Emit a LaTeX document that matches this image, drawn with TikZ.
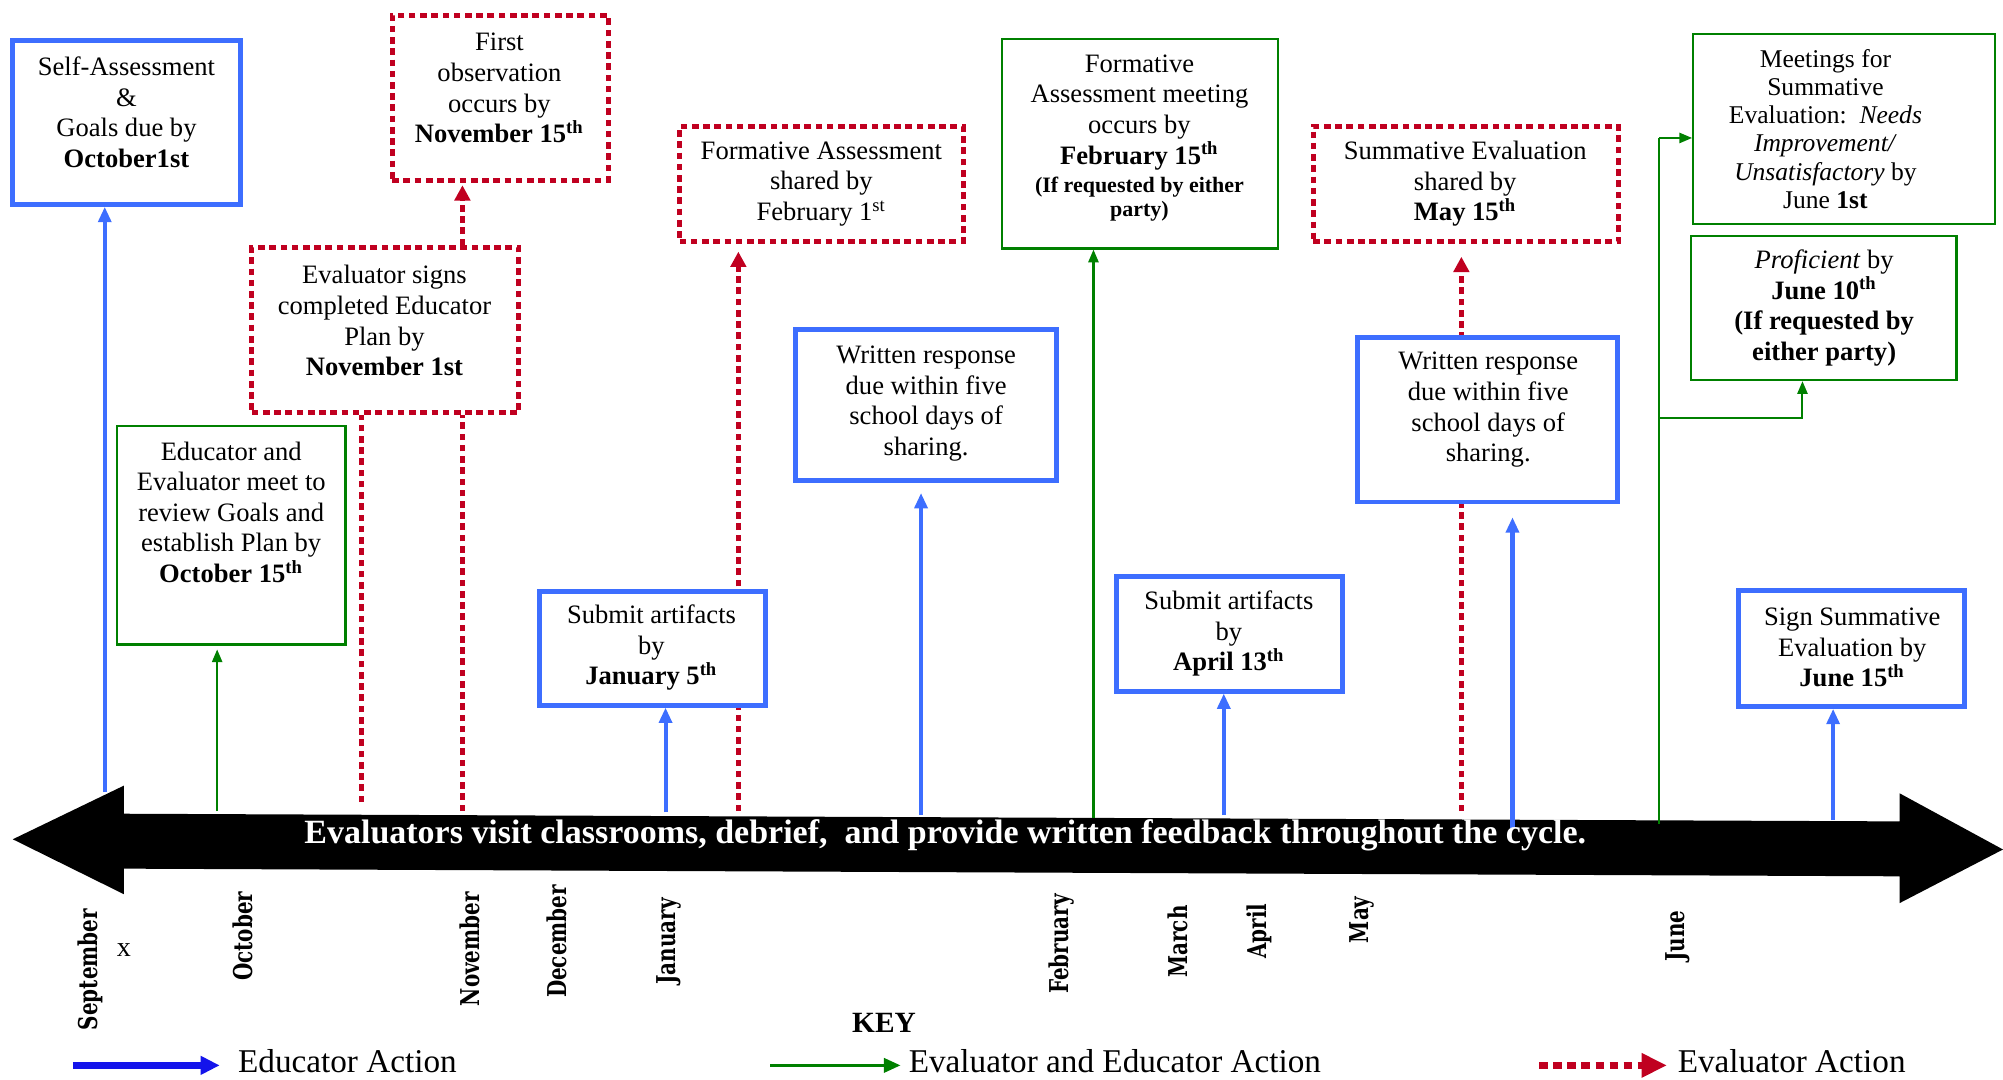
\documentclass[tikz,border=0pt]{standalone}
\usepackage{fontspec}
\setmainfont{Liberation Serif}
\newfontfamily\monthfont{DejaVu Serif}
\usetikzlibrary{arrows.meta,fit,backgrounds}
\definecolor{bxblue}{RGB}{61,110,255}
\definecolor{kblue}{RGB}{20,20,235}
\definecolor{gr}{RGB}{0,128,0}
\definecolor{rd}{RGB}{192,0,32}
\newcommand{\mlab}[1]{\scalebox{1}[1.3]{#1}}
\begin{document}
\begin{tikzpicture}[x=0.5pt,y=-0.5pt,
 bbox/.style={draw=bxblue, line width=1.9pt, fill=white, inner sep=0pt},
 rbox/.style={draw=rd, line width=2pt, dash pattern=on 2.6pt off 1.8pt, fill=white, inner sep=0pt},
 gbox/.style={draw=gr, line width=0.9pt, fill=white, inner sep=0pt},
 txt/.style={align=center, font=\fontsize{10.4}{12}\selectfont, inner sep=0pt},
 barrow/.style={draw=bxblue, line width=1.6pt, -{Triangle[length=6pt,width=5pt]}},
 rarrow/.style={draw=rd, line width=2pt, dash pattern=on 2.6pt off 1.8pt, -{Triangle[length=6pt,width=6pt]}},
 rline/.style={draw=rd, line width=2pt, dash pattern=on 2.6pt off 1.8pt},
 garrow/.style={draw=gr, line width=0.8pt, -{Triangle[length=5pt,width=4pt]}},
 gline/.style={draw=gr, line width=0.8pt},
 month/.style={rotate=90, font=\monthfont\bfseries\fontsize{7.8}{9}\selectfont, inner sep=0pt},
 keytxt/.style={font=\fontsize{13}{15}\selectfont, anchor=west, inner sep=0pt},
]
\useasboundingbox (0,0) rectangle (1568,845);

% ---------- boxes ----------
\node[bbox, fit={(10,32)(188,160)}] (sa) {};
\node[txt] (sa-t) at (99,88) {Self-Assessment\\\&\\Goals due by\\\textbf{October1st}};

\node[rbox, fit={(307,12)(476,141)}] (fo) {};
\node[txt] (fo-t) at (391,69) {First\\observation\\occurs by\\\textbf{November 15\textsuperscript{th}}};

\node[rbox, fit={(197,194)(406,323)}] (es) {};
\node[txt] (es-t) at (301,251) {Evaluator signs\\completed Educator\\Plan by\\\textbf{November 1st}};

\node[gbox, fit={(91.5,333.5)(270.5,504.5)}] (ee) {};
\node[txt] (ee-t) at (181,401) {Educator and\\Evaluator meet to\\review Goals and\\establish Plan by\\\textbf{October 15\textsuperscript{th}}};

\node[rbox, fit={(532,99)(754,189)}] (fs) {};
\node[txt] (fs-t) at (643,144) {Formative Assessment\\shared by\\February 1\textsuperscript{st}};

\node[bbox, fit={(623,258)(827,376)}] (wr1) {};
\node[txt] (wr1-t) at (725,316) {Written response\\due within five\\school days of\\sharing.};

\node[gbox, fit={(784.5,30.5)(1000.5,194.5)}] (fm) {};
\node[txt] (fm-t) at (892,108) {Formative\\Assessment meeting\\occurs by\\\textbf{February 15\textsuperscript{th}}\\[-1pt]{\fontsize{8.6}{9.5}\selectfont\bfseries (If requested by either}\\[-2.5pt]{\fontsize{8.6}{9.5}\selectfont\bfseries party)}};

\node[bbox, fit={(422,463)(599,552)}] (ja) {};
\node[txt] (ja-t) at (510,507) {Submit artifacts\\by\\\textbf{January 5\textsuperscript{th}}};

\node[bbox, fit={(874,451)(1051,541)}] (ap) {};
\node[txt] (ap-t) at (962,496) {Submit artifacts\\by\\\textbf{April 13\textsuperscript{th}}};

\node[rbox, fit={(1028,99)(1267,189)}] (ss) {};
\node[txt] (ss-t) at (1147,144) {Summative Evaluation\\shared by\\\textbf{May 15\textsuperscript{th}}};

\node[bbox, fit={(1063,264)(1266,393)}] (wr2) {};
\node[txt] (wr2-t) at (1165,321) {Written response\\due within five\\school days of\\sharing.};

\node[gbox, fit={(1325.5,26.5)(1561.5,175.5)}] (me) {};
\node[txt, font=\fontsize{10}{11}\selectfont] (me-t) at (1429,101) {Meetings for\\Summative\\Evaluation:\ \ \textit{Needs}\\\textit{Improvement/}\\\textit{Unsatisfactory} by\\June \textbf{1st}};

\node[gbox, fit={(1323.5,184.5)(1531.5,297.5)}] (pr) {};
\node[txt] (pr-t) at (1428,241) {\textit{Proficient} by\\\textbf{June 10\textsuperscript{th}}\\\textbf{(If requested by}\\\textbf{either party)}};

\node[bbox, fit={(1361,462)(1538,553)}] (sg) {};
\node[txt] (sg-t) at (1450,507) {Sign Summative\\Evaluation by\\\textbf{June 15\textsuperscript{th}}};

% ---------- axis points ----------
\coordinate (t1) at (82,620);
\coordinate (t2) at (521,636);
\coordinate (t3) at (721,638);
\coordinate (t4) at (958,638);
\coordinate (t5) at (1184,648);
\coordinate (t6) at (1435,642);
\coordinate (g1) at (170,635);
\coordinate (g2) at (856,640);
\coordinate (g3) at (1299,645);
\coordinate (g3top) at (1299,108);
\coordinate (g4) at (1299,327);
\coordinate (r1) at (283,628);
\coordinate (r2) at (362,635);
\coordinate (r3) at (578,635);
\coordinate (r4) at (1144,635);

\begin{pgfonlayer}{background}
% big black timeline arrow
\fill[black] (10,657) -- (97,615) -- (97,637) -- (1487,643) -- (1487,621) -- (1568,665)
  -- (1487,707) -- (1487,686) -- (97,680) -- (97,700) -- cycle;
% blue connectors
\draw[barrow] (t1) -- (sa.south -| t1);
\draw[barrow] (t2) -- (ja.south -| t2);
\draw[barrow, shorten >=4pt] (t3) -- (wr1.south -| t3);
\draw[barrow] (t4) -- (ap.south -| t4);
\draw[barrow, shorten >=5pt] (t5) -- (wr2.south -| t5);
\draw[barrow] (t6) -- (sg.south -| t6);
% green connectors
\draw[garrow, shorten >=1.5pt] (g1) -- (ee.south -| g1);
\draw[garrow] (g2) -- (fm.south -| g2);
\draw[gline] (g3) -- (g3top);
\draw[garrow] (g3top) -- (me.west |- g3top);
\draw[garrow] (g4) -| (1411,0 |- pr.south);
% red connectors
\draw[rline] (r1) -- (es.south -| r1);
\draw[rline] (r2) -- (es.south -| r2);
\draw[rarrow, shorten >=1pt] (es.north -| r2) -- (fo.south -| r2);
\draw[rarrow, shorten >=3pt] (r3) -- (fs.south -| r3);
\draw[rarrow, shorten >=5pt] (r4) -- (ss.south -| r4);
\end{pgfonlayer}

\node[font=\bfseries\fontsize{13.3}{15}\selectfont, text=white, inner sep=0pt] (axtxt) at (740,654)
  {Evaluators visit classrooms, debrief,\ \ and provide written feedback throughout the cycle.};

% ---------- months ----------
\node[month] (m1) at (71,759) {\mlab{September}};
\node[font=\fontsize{11}{13}\selectfont, inner sep=0pt] (xm) at (97,744) {x};
\node[month] (m2) at (190,733) {\mlab{October}};
\node[month] (m3) at (368,743) {\mlab{November}};
\node[month] (m4) at (436,737) {\mlab{December}};
\node[month] (m5) at (524,737) {\mlab{January}};
\node[month] (m6) at (831,739) {\mlab{February}};
\node[month] (m7) at (922,737) {\mlab{March}};
\node[month] (m8) at (986,729) {\mlab{April}};
\node[month] (m9) at (1066,720) {\mlab{May}};
\node[month] (m10) at (1313,733) {\mlab{June}};

% ---------- key ----------
\node[font=\bfseries\fontsize{11.5}{13}\selectfont, inner sep=0pt] (key) at (692,801) {KEY};
\coordinate (k1a) at (57,834);
\coordinate (k1b) at (172,834);
\coordinate (k2a) at (603,834);
\coordinate (k2b) at (705,834);
\coordinate (k3a) at (1205,834);
\coordinate (k3b) at (1305,834);
\draw[kblue, line width=2.5pt, -{Triangle[length=7.5pt,width=7pt]}] (k1a) -- (k1b);
\draw[gr, line width=1.3pt, -{Triangle[length=6.5pt,width=5.5pt]}] (k2a) -- (k2b);
\draw[rd, line width=2.8pt, dash pattern=on 3.3pt off 2.2pt, -{Triangle[length=10pt,width=9pt]}] (k3a) -- (k3b);
\node[keytxt] (k1t) at (186,831) {Educator Action};
\node[keytxt] (k2t) at (711,831) {Evaluator and Educator Action};
\node[keytxt] (k3t) at (1313,831) {Evaluator Action};
\end{tikzpicture}
\end{document}
